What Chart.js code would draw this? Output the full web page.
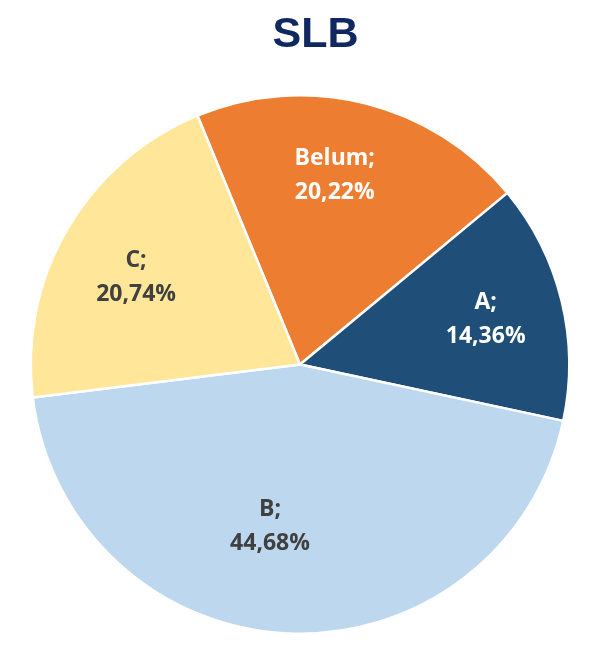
<!DOCTYPE html>
<html>
<head>
<meta charset="utf-8">
<script src="https://cdn.jsdelivr.net/npm/chart.js@4/dist/chart.umd.min.js"></script>
<style>
  body { margin: 0; background: #fff; }
  #wrap { width: 591px; height: 653px; position: relative; }
</style>
</head>
<body>
<div id="wrap"><canvas id="myChart"></canvas></div>
<script>
// Data
let categories = ['Belum', 'A', 'B', 'C'];
let shares = [20.22, 14.36, 44.68, 20.74];
let sliceColors = ['#ED7D31', '#1F4E79', '#BDD7EE', '#FFE699'];
let labelColors = ['#ffffff', '#ffffff', '#404040', '#404040'];
let chartTitle = 'SLB';

// Title drawn a little right of center, like the original
const sideTitle = {
    id: 'sideTitle',
    beforeDraw(chart, args, opts) {
        const ctx = chart.ctx;
        ctx.save();
        ctx.font = 'bold 43px "Liberation Sans", Arial, sans-serif';
        ctx.fillStyle = '#0F2861';
        ctx.textAlign = 'center';
        ctx.textBaseline = 'middle';
        ctx.fillText(chartTitle, chart.width / 2 + opts.shift, 35);
        ctx.restore();
    }
};

// Simple inline label plugin (no datalabels plugin available)
const sliceLabels = {
    id: 'sliceLabels',
    afterDatasetsDraw(chart, args, opts) {
        const ctx = chart.ctx;
        const meta = chart.getDatasetMeta(0);
        ctx.save();
        ctx.font = 'bold 23px "Open Sans", Lato, sans-serif';
        ctx.textAlign = 'center';
        ctx.textBaseline = 'middle';
        meta.data.forEach((arc, i) => {
            const mid = (arc.startAngle + arc.endAngle) / 2 + opts.shift[i] * Math.PI / 180;
            const r = arc.outerRadius * opts.radius[i];
            const x = arc.x + Math.cos(mid) * r;
            const y = arc.y + Math.sin(mid) * r;
            const value = shares[i].toFixed(2).replace('.', ',') + '%';
            ctx.fillStyle = labelColors[i];
            ctx.fillText(categories[i] + ';', x, y - 17);
            ctx.fillText(value, x, y + 17);
        });
        ctx.restore();
    }
};

const ctx = document.getElementById('myChart').getContext('2d');
const myChart = new Chart(ctx, {
    type: 'pie',
    data: {
        labels: categories,
        datasets: [{
            data: shares,
            backgroundColor: sliceColors,
            borderColor: '#ffffff',
            borderWidth: 2.5
        }]
    },
    options: {
        responsive: true,
        maintainAspectRatio: false,
        animation: false,
        rotation: -22.4,
        layout: { padding: { left: 9, right: 0, top: 94, bottom: 18 } },
        plugins: {
            legend: { display: false },
            tooltip: { enabled: false },
            title: { display: false },
            sideTitle: { shift: 20 },
            sliceLabels: { radius: [0.715, 0.71, 0.61, 0.69], shift: [-3.6, 0, 8, -2.2] }
        }
    },
    plugins: [sideTitle, sliceLabels]
});
</script>
</body>
</html>
